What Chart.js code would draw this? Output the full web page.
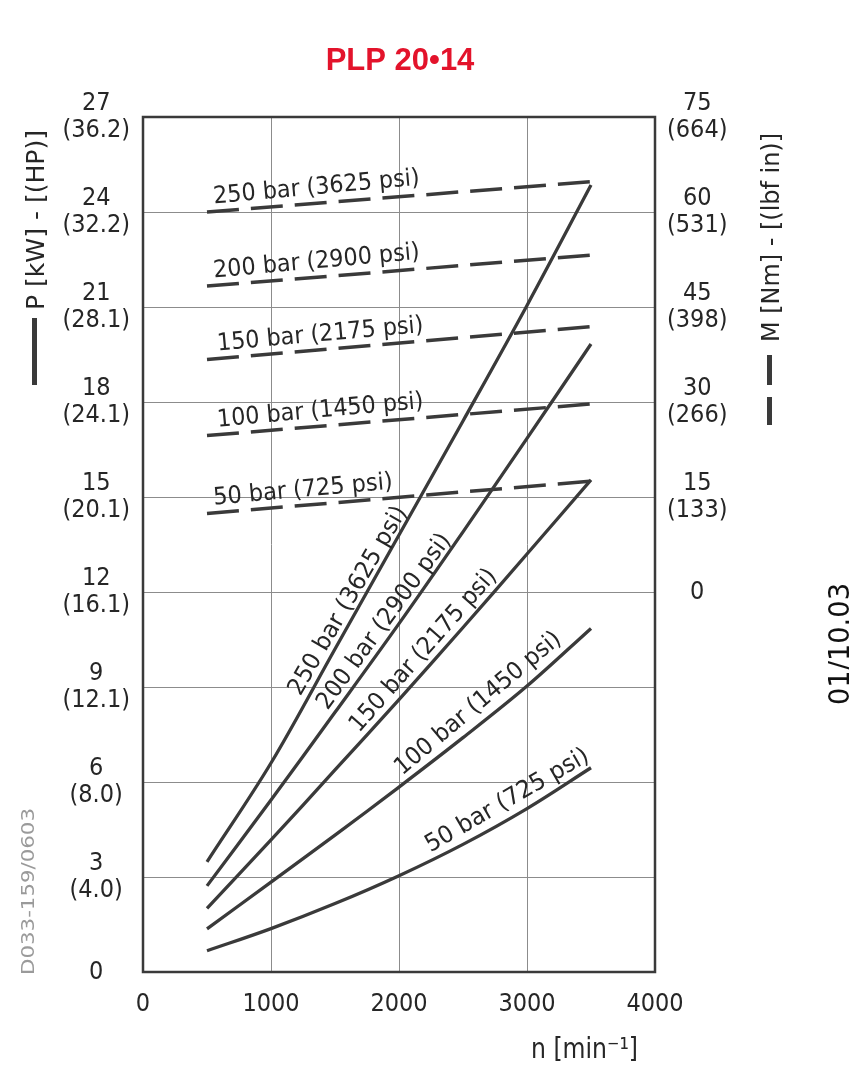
<!DOCTYPE html>
<html>
<head>
<meta charset="utf-8">
<title>PLP 20•14</title>
<script src="https://cdn.jsdelivr.net/npm/chart.js@4.4.1/dist/chart.umd.min.js"></script>
<style>
  html, body { margin: 0; padding: 0; background: #fff; }
  #wrap { position: relative; width: 849px; height: 1080px; }
</style>
</head>
<body>
<div id="wrap"><canvas id="chart"></canvas></div>
<script>
// PLP 20.14 - power and torque vs speed

const speeds       = [500, 1000, 1500, 2000, 2500, 3000, 3500];
const power250     = [3.48, 6.6, 10.2, 13.8, 17.4, 21.05, 24.85];
const power200     = [2.72, 5.43, 8.2, 11.0, 13.9, 16.85, 19.83];
const power150     = [2.01, 4.17, 6.38, 8.6, 10.88, 13.2, 15.54];
const power100     = [1.36, 2.84, 4.32, 5.84, 7.4, 9.03, 10.85];
const power50      = [0.67, 1.37, 2.16, 3.04, 4.03, 5.16, 6.45];

const torqueSpeeds = [500, 3500];
const torque250    = [60.0, 64.8];
const torque200    = [48.3, 53.2];
const torque150    = [36.7, 41.9];
const torque100    = [24.7, 29.7];
const torque50     = [12.4, 17.5];

const pressures    = ['250 bar (3625 psi)', '200 bar (2900 psi)', '150 bar (2175 psi)',
                      '100 bar (1450 psi)', '50 bar (725 psi)'];

const speedTicks   = [0, 1000, 2000, 3000, 4000];
const powerTicks   = [0, 3, 6, 9, 12, 15, 18, 21, 24, 27];
const hpTicks      = ['', '(4.0)', '(8.0)', '(12.1)', '(16.1)', '(20.1)', '(24.1)', '(28.1)', '(32.2)', '(36.2)'];
const torqueTicks  = [0, 15, 30, 45, 60, 75];
const lbfTicks     = ['', '(133)', '(266)', '(398)', '(531)', '(664)'];

const powerSeries  = [power250, power200, power150, power100, power50];
const torqueSeries = [torque250, torque200, torque150, torque100, torque50];

// where the curve labels start along each curve (rpm) and their tilt
const powerLabelAt  = [1275, 1486, 1729, 2061, 2273];
const powerLabelRot = [-60, -54, -48.5, -40, -30];
const powerLabelLen = [214, 211, 209, 209, 185];
const torqueLabelAt = [560, 560, 590, 590, 560];

const INK  = '#3a3a3a';
const TEXT = '#262626';
const FONT = "'Liberation Sans Narrow', 'DejaVu Sans Condensed', 'DejaVu Sans', sans-serif";

function pts(xs, ys) {
  return xs.map((x, i) => ({ x: x, y: ys[i] }));
}

function interp(xs, ys, x) {
  for (let i = 0; i < xs.length - 1; i++) {
    if (x >= xs[i] && x <= xs[i + 1]) {
      const t = (x - xs[i]) / (xs[i + 1] - xs[i]);
      return ys[i] + t * (ys[i + 1] - ys[i]);
    }
  }
  return ys[ys.length - 1];
}

// draw text rotated, squeezed/stretched to a given length
function fitText(ctx, text, x, y, deg, len, size, color, dy) {
  ctx.save();
  ctx.translate(x, y);
  ctx.rotate(deg * Math.PI / 180);
  ctx.font = size + 'px ' + FONT;
  ctx.fillStyle = color;
  ctx.textBaseline = 'alphabetic';
  ctx.textAlign = 'left';
  const w = ctx.measureText(text).width;
  ctx.scale(len / w, 1);
  ctx.fillText(text, 0, dy || 0);
  ctx.restore();
}

const datasets = [];
powerSeries.forEach((s, i) => datasets.push({
  label: pressures[i] + ' P',
  data: pts(speeds, s),
  yAxisID: 'y',
  borderColor: INK,
  borderWidth: 3.3,
  pointRadius: 0,
  tension: 0.35,
  fill: false,
}));
torqueSeries.forEach((s, i) => datasets.push({
  label: pressures[i] + ' M',
  data: pts(torqueSpeeds, s),
  yAxisID: 'y2',
  borderColor: INK,
  borderWidth: 3.5,
  borderDash: [32, 12],
  pointRadius: 0,
  fill: false,
}));

const annotate = {
  id: 'annotate',
  afterDraw(chart) {
    const { ctx, chartArea: a, scales } = chart;
    const sx = scales.x, sy = scales.y, sm = scales.y2;

    ctx.save();
    // plot frame
    ctx.strokeStyle = INK;
    ctx.lineWidth = 2.5;
    ctx.strokeRect(a.left, a.top, a.right - a.left, a.bottom - a.top);

    // labels along torque (dashed) lines
    torqueSeries.forEach((s, i) => {
      const n = torqueLabelAt[i];
      const px = sx.getPixelForValue(n);
      const py = sm.getPixelForValue(interp(torqueSpeeds, s, n));
      fitText(ctx, pressures[i], px, py, -5.2, i === 4 ? 180 : 207, 24, TEXT, -8);
    });

    // labels along power (solid) lines
    powerSeries.forEach((s, i) => {
      const n = powerLabelAt[i];
      const px = sx.getPixelForValue(n);
      const py = sy.getPixelForValue(interp(speeds, s, n));
      fitText(ctx, pressures[i], px, py, powerLabelRot[i], powerLabelLen[i], 24, TEXT, -7);
    });

    // title
    ctx.font = 'bold 31px "Liberation Sans", Arial, sans-serif';
    ctx.fillStyle = '#e3132b';
    ctx.textAlign = 'center';
    ctx.textBaseline = 'middle';
    ctx.fillText('PLP 20•14', 400, 61);

    // left axis title with solid line key
    ctx.fillStyle = INK;
    ctx.fillRect(32, 318, 5, 67);
    fitText(ctx, 'P [kW] - [(HP)]', 44, 310, -90, 180, 24, TEXT, 0);

    // right axis title with dashed line key
    ctx.fillRect(767, 355, 5, 30);
    ctx.fillRect(767, 397, 5, 28);
    fitText(ctx, 'M [Nm] - [(lbf in)]', 779, 342, -90, 209, 24, TEXT, 0);

    // x axis title
    fitText(ctx, 'n [min⁻¹]', 531, 1058, 0, 107, 28, TEXT, 0);

    // drawing code and date
    fitText(ctx, 'D033-159/0603', 34, 975, -90, 167, 18, '#9a9a9a', 0);
    fitText(ctx, '01/10.03', 849, 705, -90, 122, 29, '#111', 0);
    ctx.restore();
  },
};

const tickFont = { family: FONT, size: 25, lineHeight: 1.06 };

new Chart(document.getElementById('chart'), {
  type: 'line',
  data: { datasets },
  plugins: [annotate],
  options: {
    responsive: true,
    maintainAspectRatio: false,
    animation: false,
    layout: { padding: { top: 117, left: 0, right: 0, bottom: 0 } },
    plugins: {
      legend:  { display: false },
      tooltip: { enabled: false },
      title:   { display: false },
    },
    scales: {
      x: {
        type: 'linear',
        min: 0,
        max: 4000,
        afterBuildTicks: s => { s.ticks = speedTicks.map(v => ({ value: v })); },
        afterFit: s => { s.height = 108; },
        ticks: {
          color: TEXT, font: tickFont, padding: 19, autoSkip: false, maxRotation: 0,
          callback: v => String(v),
        },
        grid: { color: '#8c8c8c', lineWidth: 1, drawTicks: false },
        border: { display: false },
      },
      y: {
        position: 'left',
        min: 0,
        max: 27,
        afterBuildTicks: s => { s.ticks = powerTicks.map(v => ({ value: v })); },
        afterFit: s => { s.width = 143; },
        ticks: {
          color: TEXT,
          font: tickFont,
          crossAlign: 'center',
          padding: 13,
          autoSkip: false,
          callback: v => {
            const hp = hpTicks[powerTicks.indexOf(v)];
            return hp ? [String(v), hp] : String(v);
          },
        },
        grid: { color: '#8c8c8c', lineWidth: 1, drawTicks: false },
        border: { display: false },
      },
      y2: {
        position: 'right',
        min: -60,
        max: 75,
        afterBuildTicks: s => { s.ticks = torqueTicks.map(v => ({ value: v })); },
        afterFit: s => { s.width = 194; },
        ticks: {
          color: TEXT,
          font: tickFont,
          crossAlign: 'center',
          padding: 12,
          autoSkip: false,
          callback: v => {
            const lbf = lbfTicks[torqueTicks.indexOf(v)];
            return lbf ? [String(v), lbf] : String(v);
          },
        },
        grid: { display: false, drawTicks: false },
        border: { display: false },
      },
    },
  },
});
</script>
</body>
</html>
